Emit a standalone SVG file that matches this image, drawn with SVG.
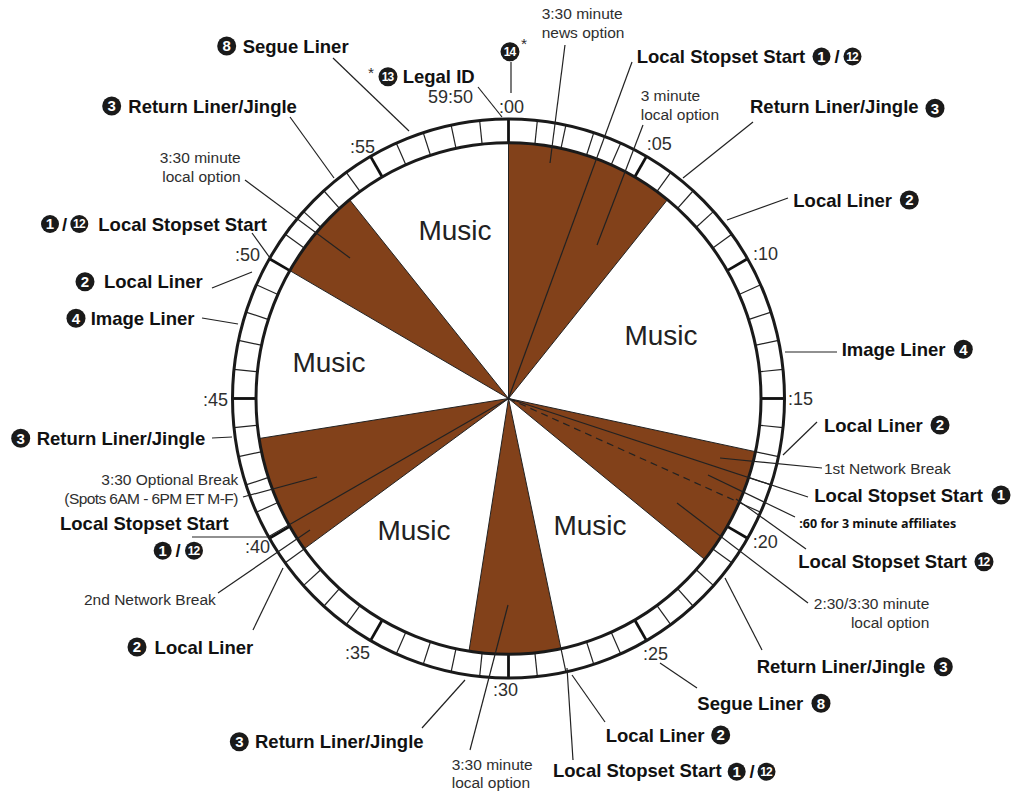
<svg xmlns="http://www.w3.org/2000/svg" xmlns:xlink="http://www.w3.org/1999/xlink" width="1012" height="792" viewBox="0 0 1012 792">
<style>
.lb{font-family:"Liberation Sans",Arial,sans-serif;font-weight:bold;font-size:18.5px;fill:#111}
.th{font-family:"Liberation Sans",Arial,sans-serif;font-size:15.5px;fill:#2e2e2e}
.tk{font-family:"Liberation Sans",Arial,sans-serif;font-size:18px;fill:#2e2e2e}
.mu{font-family:"Liberation Sans",Arial,sans-serif;font-size:28px;fill:#222;text-anchor:middle}
.af{font-family:"Open Sans","Liberation Sans",sans-serif;font-weight:bold;font-size:12.5px;fill:#111}
.bc{fill:#1a1a1a}
.bn{font-family:"Liberation Sans",Arial,sans-serif;font-weight:bold;font-size:15px;fill:#fff;text-anchor:middle}
.b2{font-size:12px;letter-spacing:-0.8px}
.ld{stroke:#222;stroke-width:1.2;fill:none}
.wd{fill:#82411A;stroke:#222;stroke-width:1;vector-effect:non-scaling-stroke}
.ring{fill:none;stroke:#1a1a1a;stroke-width:3}
.mn{stroke:#222;stroke-width:1.2}
.mj{stroke:#111;stroke-width:2.8}
</style>
<defs>
<line id="mn" class="mn" x1="0" y1="-253" x2="0" y2="-276"/>
<line id="mj" class="mj" x1="0" y1="-253" x2="0" y2="-276"/>
</defs>
<rect width="1012" height="792" fill="#fff"/>
<g id="clock" transform="translate(508.5 398.5) scale(1 1.013)">
<g id="wedges">
<path class="wd" d="M0 0 L0 -252.5 A252.5 252.5 0 0 1 158.9 -196.2 Z"/>
<path class="wd" d="M0 0 L246.97 52.5 A252.5 252.5 0 0 1 196.2 158.9 Z"/>
<path class="wd" d="M0 0 L52.5 246.97 A252.5 252.5 0 0 1 -39.5 249.4 Z"/>
<path class="wd" d="M0 0 L-204.3 148.4 A252.5 252.5 0 0 1 -249.4 39.5 Z"/>
<path class="wd" d="M0 0 L-218.7 -126.25 A252.5 252.5 0 0 1 -158.9 -196.2 Z"/>
</g>
<g id="ticks">
<use href="#mj"/><use href="#mn" transform="rotate(6)"/><use href="#mn" transform="rotate(12)"/><use href="#mn" transform="rotate(18)"/><use href="#mn" transform="rotate(24)"/>
<use href="#mj" transform="rotate(30)"/><use href="#mn" transform="rotate(36)"/><use href="#mn" transform="rotate(42)"/><use href="#mn" transform="rotate(48)"/><use href="#mn" transform="rotate(54)"/>
<use href="#mj" transform="rotate(60)"/><use href="#mn" transform="rotate(66)"/><use href="#mn" transform="rotate(72)"/><use href="#mn" transform="rotate(78)"/><use href="#mn" transform="rotate(84)"/>
<use href="#mj" transform="rotate(90)"/><use href="#mn" transform="rotate(96)"/><use href="#mn" transform="rotate(102)"/><use href="#mn" transform="rotate(108)"/><use href="#mn" transform="rotate(114)"/>
<use href="#mj" transform="rotate(120)"/><use href="#mn" transform="rotate(126)"/><use href="#mn" transform="rotate(132)"/><use href="#mn" transform="rotate(138)"/><use href="#mn" transform="rotate(144)"/>
<use href="#mj" transform="rotate(150)"/><use href="#mn" transform="rotate(156)"/><use href="#mn" transform="rotate(162)"/><use href="#mn" transform="rotate(168)"/><use href="#mn" transform="rotate(174)"/>
<use href="#mj" transform="rotate(180)"/><use href="#mn" transform="rotate(186)"/><use href="#mn" transform="rotate(192)"/><use href="#mn" transform="rotate(198)"/><use href="#mn" transform="rotate(204)"/>
<use href="#mj" transform="rotate(210)"/><use href="#mn" transform="rotate(216)"/><use href="#mn" transform="rotate(222)"/><use href="#mn" transform="rotate(228)"/><use href="#mn" transform="rotate(234)"/>
<use href="#mj" transform="rotate(240)"/><use href="#mn" transform="rotate(246)"/><use href="#mn" transform="rotate(252)"/><use href="#mn" transform="rotate(258)"/><use href="#mn" transform="rotate(264)"/>
<use href="#mj" transform="rotate(270)"/><use href="#mn" transform="rotate(276)"/><use href="#mn" transform="rotate(282)"/><use href="#mn" transform="rotate(288)"/><use href="#mn" transform="rotate(294)"/>
<use href="#mj" transform="rotate(300)"/><use href="#mn" transform="rotate(306)"/><use href="#mn" transform="rotate(312)"/><use href="#mn" transform="rotate(318)"/><use href="#mn" transform="rotate(324)"/>
<use href="#mj" transform="rotate(330)"/><use href="#mn" transform="rotate(336)"/><use href="#mn" transform="rotate(342)"/><use href="#mn" transform="rotate(348)"/><use href="#mn" transform="rotate(354)"/>
</g>
<circle class="ring" r="276"/>
<circle class="ring" r="252.5"/>
</g>
<g id="music">
<text class="mu" x="455" y="240">Music</text>
<text class="mu" x="661" y="345">Music</text>
<text class="mu" x="329" y="372">Music</text>
<text class="mu" x="414" y="540">Music</text>
<text class="mu" x="590" y="535">Music</text>
</g>
<g id="minute-labels" class="tk">
<text x="499" y="112.5">:00</text>
<text x="646.7" y="149.7">:05</text>
<text x="753" y="259.7">:10</text>
<text x="788" y="404.7">:15</text>
<text x="752.7" y="548">:20</text>
<text x="643" y="659.7">:25</text>
<text x="493" y="696.4">:30</text>
<text x="345" y="659">:35</text>
<text x="245" y="553">:40</text>
<text x="203" y="405.7">:45</text>
<text x="235" y="261.4">:50</text>
<text x="350" y="153">:55</text>
</g>
<g id="connectors">
<line class="ld" x1="511" y1="62" x2="511" y2="93"/>
<line class="ld" x1="478" y1="87" x2="502" y2="117"/>
<line class="ld" x1="333" y1="58" x2="409" y2="131"/>
<line class="ld" x1="290" y1="117" x2="334" y2="178"/>
<line class="ld" x1="245" y1="180" x2="350" y2="258"/>
<line class="ld" x1="252" y1="233" x2="270" y2="258"/>
<line class="ld" x1="212" y1="288" x2="252" y2="272"/>
<line class="ld" x1="202" y1="318" x2="238" y2="324"/>
<line class="ld" x1="212" y1="438" x2="232" y2="437"/>
<line class="ld" x1="243" y1="497" x2="317" y2="477"/>
<polyline class="ld" points="192,537 268,537 508.5,398.5"/>
<line class="ld" x1="218" y1="593" x2="310" y2="530"/>
<line class="ld" x1="253" y1="630" x2="283" y2="568"/>
<line class="ld" x1="422" y1="728" x2="465" y2="680"/>
<line class="ld" x1="470" y1="750" x2="508" y2="605"/>
<line class="ld" x1="573" y1="760" x2="567" y2="668"/>
<line class="ld" x1="605" y1="722" x2="572" y2="675"/>
<line class="ld" x1="697" y1="688" x2="660" y2="663"/>
<line class="ld" x1="762" y1="650" x2="725" y2="578"/>
<line class="ld" x1="808" y1="603" x2="677" y2="503"/>
<line class="ld" x1="806" y1="549" x2="736" y2="499"/>
<line class="ld" x1="795" y1="517" x2="708" y2="475"/>
<line class="ld" x1="508.5" y1="398.5" x2="739.2" y2="502.5" stroke-dasharray="7 5"/>
<line class="ld" x1="808" y1="497" x2="508.5" y2="398.5"/>
<line class="ld" x1="822" y1="468" x2="720" y2="458"/>
<line class="ld" x1="817" y1="422" x2="783" y2="455"/>
<line class="ld" x1="837" y1="352" x2="785" y2="352"/>
<line class="ld" x1="788" y1="198" x2="727" y2="220"/>
<line class="ld" x1="753" y1="122" x2="683" y2="178"/>
<line class="ld" x1="643" y1="125" x2="597" y2="245"/>
<line class="ld" x1="632" y1="62" x2="508.5" y2="398.5"/>
<line class="ld" x1="565" y1="45" x2="550" y2="163"/>
</g>
<g id="n-segue-tl"><circle class="bc" cx="226.7" cy="46" r="9.5"/><text class="bn" x="226.7" y="51.3">8</text><text class="lb" x="242.7" y="52.5">Segue Liner</text></g>
<g id="n-legal-id"><text class="th" x="368" y="78" font-size="17">*</text><circle class="bc" cx="388" cy="76.7" r="9.5"/><text class="bn b2" x="387.6" y="81">13</text><text class="lb" x="402.7" y="83.3">Legal ID</text><text class="tk" x="428" y="103">59:50</text></g>
<g id="n-14"><circle class="bc" cx="510" cy="51.7" r="9.5"/><text class="bn b2" x="509.6" y="56">14</text><text class="th" x="521" y="49" font-size="17">*</text></g>
<g id="n-news"><text class="th" x="541.7" y="19">3:30 minute</text><text class="th" x="541.7" y="38">news option</text></g>
<g id="n-stopset-top"><text class="lb" x="636.7" y="63.3">Local Stopset Start</text><circle class="bc" cx="821.5" cy="56.5" r="9"/><text class="bn" x="821.5" y="61.8">1</text><text class="lb" x="834.5" y="63.3">/</text><circle class="bc" cx="852.5" cy="56.5" r="9"/><text class="bn b2" x="852.1" y="60.8">12</text></g>
<g id="n-3min"><text class="th" x="640.7" y="100.5">3 minute</text><text class="th" x="640.7" y="119.5">local option</text></g>
<g id="n-return-tr"><text class="lb" x="750" y="113.3">Return Liner/Jingle</text><circle class="bc" cx="935" cy="108.3" r="9.5"/><text class="bn" x="935" y="113.6">3</text></g>
<g id="n-local-r"><text class="lb" x="793.3" y="206.6">Local Liner</text><circle class="bc" cx="909.3" cy="200" r="9.5"/><text class="bn" x="909.3" y="205.3">2</text></g>
<g id="n-image-r"><text class="lb" x="841.7" y="356">Image Liner</text><circle class="bc" cx="963.3" cy="349.3" r="9.5"/><text class="bn" x="963.3" y="354.6">4</text></g>
<g id="n-local-r2"><text class="lb" x="824" y="431.6">Local Liner</text><circle class="bc" cx="940" cy="425" r="9.5"/><text class="bn" x="940" y="430.3">2</text></g>
<g id="n-net1"><text class="th" x="824" y="473.5">1st Network Break</text></g>
<g id="n-stopset-r1"><text class="lb" x="814.3" y="501.6">Local Stopset Start</text><circle class="bc" cx="1001" cy="495" r="9.5"/><text class="bn" x="1001" y="500.3">1</text></g>
<g id="n-affil"><text class="af" x="799.3" y="527.5">:60 for 3 minute affiliates</text></g>
<g id="n-stopset-r12"><text class="lb" x="798.3" y="568.3">Local Stopset Start</text><circle class="bc" cx="984" cy="561.7" r="9.5"/><text class="bn b2" x="983.6" y="566">12</text></g>
<g id="n-230"><text class="th" x="929.3" y="608.7" text-anchor="end">2:30/3:30 minute</text><text class="th" x="929.3" y="627.5" text-anchor="end">local option</text></g>
<g id="n-return-br"><text class="lb" x="756.7" y="673.3">Return Liner/Jingle</text><circle class="bc" cx="943.3" cy="666.7" r="9.5"/><text class="bn" x="943.3" y="672">3</text></g>
<g id="n-segue-br"><text class="lb" x="697.3" y="710">Segue Liner</text><circle class="bc" cx="821" cy="703.3" r="9.5"/><text class="bn" x="821" y="708.6">8</text></g>
<g id="n-local-b"><text class="lb" x="605.7" y="741.6">Local Liner</text><circle class="bc" cx="720.7" cy="735" r="9.5"/><text class="bn" x="720.7" y="740.3">2</text></g>
<g id="n-stopset-b"><text class="lb" x="553" y="776.6">Local Stopset Start</text><circle class="bc" cx="736.7" cy="771.7" r="9"/><text class="bn" x="736.7" y="777">1</text><text class="lb" x="749.5" y="777.6">/</text><circle class="bc" cx="766.5" cy="771.7" r="9"/><text class="bn b2" x="766.1" y="776">12</text></g>
<g id="n-330-b"><text class="th" x="451.7" y="769.5">3:30 minute</text><text class="th" x="451.7" y="788">local option</text></g>
<g id="n-return-b"><circle class="bc" cx="239.3" cy="741.7" r="9.5"/><text class="bn" x="239.3" y="747">3</text><text class="lb" x="255" y="748">Return Liner/Jingle</text></g>
<g id="n-local-bl"><circle class="bc" cx="137" cy="647" r="9.5"/><text class="bn" x="137" y="652.3">2</text><text class="lb" x="154.6" y="654">Local Liner</text></g>
<g id="n-net2"><text class="th" x="84" y="604.5">2nd Network Break</text></g>
<g id="n-stopset-l"><text class="lb" x="60" y="530">Local Stopset Start</text><circle class="bc" cx="162.7" cy="550.7" r="9"/><text class="bn" x="162.7" y="556">1</text><text class="lb" x="175.5" y="557.3">/</text><circle class="bc" cx="194" cy="550.7" r="9"/><text class="bn b2" x="193.6" y="555">12</text></g>
<g id="n-optional"><text class="th" x="238.3" y="484.5" text-anchor="end">3:30 Optional Break</text><text class="th" x="238.3" y="503.5" text-anchor="end" textLength="174">(Spots 6AM - 6PM ET M-F)</text></g>
<g id="n-return-l"><circle class="bc" cx="20.7" cy="438.3" r="9.5"/><text class="bn" x="20.7" y="443.6">3</text><text class="lb" x="36.7" y="445">Return Liner/Jingle</text></g>
<g id="n-image-l"><circle class="bc" cx="76" cy="318.3" r="9.5"/><text class="bn" x="76" y="323.6">4</text><text class="lb" x="90.7" y="325">Image Liner</text></g>
<g id="n-local-l"><circle class="bc" cx="85" cy="281.7" r="9.5"/><text class="bn" x="85" y="287">2</text><text class="lb" x="104" y="288.3">Local Liner</text></g>
<g id="n-stopset-tl"><circle class="bc" cx="50" cy="224" r="9"/><text class="bn" x="50" y="229.3">1</text><text class="lb" x="62" y="230.6">/</text><circle class="bc" cx="79.3" cy="224" r="9"/><text class="bn b2" x="78.9" y="228.3">12</text><text class="lb" x="98.3" y="230.6">Local Stopset Start</text></g>
<g id="n-330-tl"><text class="th" x="240.7" y="163" text-anchor="end">3:30 minute</text><text class="th" x="240.7" y="181.5" text-anchor="end">local option</text></g>
<g id="n-return-tl"><circle class="bc" cx="111.7" cy="106" r="9.5"/><text class="bn" x="111.7" y="111.3">3</text><text class="lb" x="128.3" y="112.6">Return Liner/Jingle</text></g>
</svg>
